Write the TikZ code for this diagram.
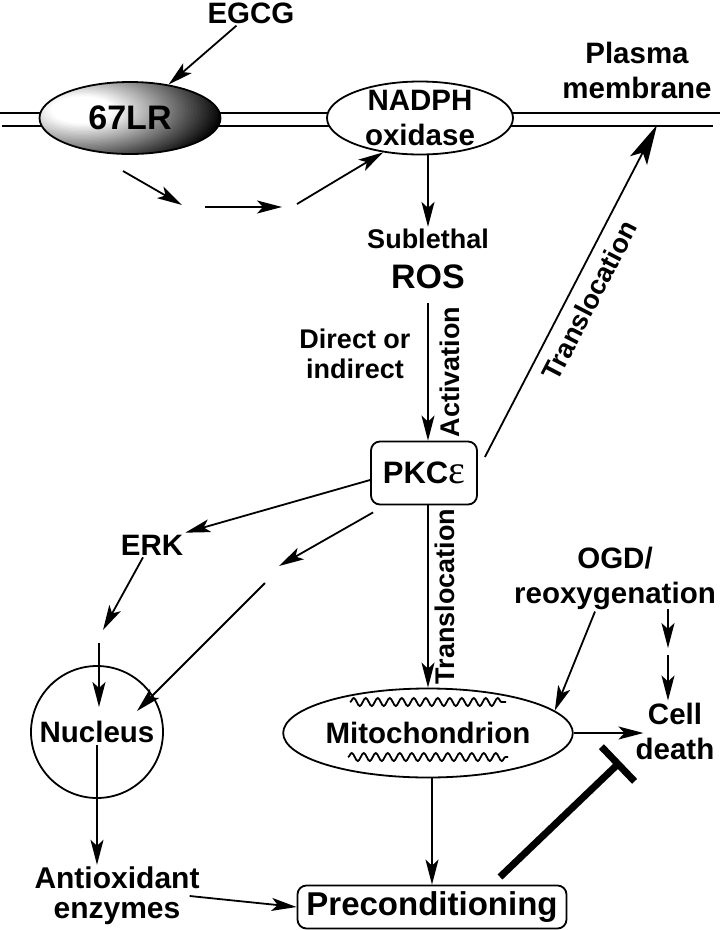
\documentclass[tikz,border=0pt]{standalone}
\usepackage{fontspec}
\setmainfont{Liberation Sans}
\newfontfamily\epsfont{Liberation Serif}
\usetikzlibrary{arrows.meta,shapes.geometric,calc,decorations.pathmorphing}
\tikzset{
  arr/.style={line width=1.8pt, -{Stealth[length=25pt,width=13pt,inset=6pt]}},
  bigarr/.style={line width=1.8pt, -{Stealth[length=40pt,width=19pt,inset=9pt]}},
  txt/.style={font=\fontsize{29.5}{35}\selectfont\bfseries, align=center, inner sep=2pt},
  lab/.style={font=\fontsize{27}{30}\selectfont\bfseries, align=center, inner sep=2pt},
  oval/.style={ellipse, draw, line width=1.8pt, inner sep=0pt},
  box/.style={rectangle, draw, rounded corners=9pt, line width=1.8pt, fill=white, inner sep=0pt},
  membrane/.style={line width=1.8pt},
  inhib/.style={line width=7pt},
  crista/.style={line width=1.8pt, decorate, decoration={snake, amplitude=4pt, segment length=12pt}},
}

\begin{document}
\begin{tikzpicture}[x=1pt, y=-1pt]
                \useasboundingbox (0,0) rectangle (720,930);
                \draw[membrane] (0,113) -- (720,113);
                \draw[membrane] (2,126) -- (713,126);
                \begin{scope}
                  \clip (130,118) ellipse [x radius=90.5, y radius=36];
                  \fill[black] (130,118) ellipse [x radius=91, y radius=37];
                  \foreach \r in {160,157,...,30} {
                    \pgfmathsetmacro\dk{max(0,min(100,0.9*(\r-32)))}
                    \fill[black!\dk] (82,110) ellipse [x radius=\r, y radius=\r/2.3];
                  }
                \end{scope}
                \node[txt] (egcg) at (251,13) {EGCG};
                \node[oval, minimum width=181pt, minimum height=72pt, font=\fontsize{34}{36}\selectfont\bfseries] (lr) at (130,118) {67LR};
                \node[oval, fill=white, minimum width=186pt, minimum height=73pt, txt, inner sep=-3pt] (nadph) at (420,118) {NADPH\\oxidase};
                \node[txt] (plasma) at (637,70) {Plasma\\membrane};
                \node[lab] (subl) at (428,239) {Sublethal};
                \node[txt, font=\fontsize{34}{36}\selectfont\bfseries] (ros) at (428,277) {ROS};
                \node[lab] (direct) at (355,354) {Direct or\\indirect};
                \node[box, minimum width=106pt, minimum height=63pt, font=\fontsize{31}{32}\selectfont\bfseries] (pkc) at (424,473) {PKC{\epsfont\mdseries\fontsize{40}{40}\selectfont ε}};
                \node[txt] (erk) at (152,545) {ERK};
                \node[circle, draw, line width=1.8pt, minimum size=132pt, txt, inner sep=0pt] (nuc) at (97,732) {Nucleus};
                \node[oval, fill=white, minimum width=226pt, minimum height=89pt, txt, inner sep=0pt] (mito) at (428,733) {Mitochondrion};
                \node[txt] (ogd) at (615,578) {OGD/\\reoxygenation};
                \node[txt] (death) at (675,731) {Cell\\death};
                \node[txt, font=\fontsize{30}{30}\selectfont\bfseries] (anti) at (117,896) {Antioxidant\\enzymes};
                \node[box, minimum width=269pt, minimum height=43pt, font=\fontsize{33}{34}\selectfont\bfseries] (pre) at (432,907) {Preconditioning};
                \draw[crista] ($(mito)+(-78,-31)$) -- ($(mito)+(78,-31)$);
                \draw[crista] ($(mito)+(-80,24)$) -- ($(mito)+(80,24)$);
                \coordinate (d1) at (123,171);
                \coordinate (d2) at (182,205);
                \coordinate (d3) at (205,207);
                \coordinate (d4) at (282,207);
                \coordinate (d5) at (297,204);
                \coordinate (g1) at (279,566);
                \coordinate (g2) at (265,583);
                \coordinate (e1) at (103,630);
                \coordinate (e2) at (99,643);
                \coordinate (h0) at (668,609);
                \coordinate (h1) at (668,648);
                \coordinate (h2) at (668,655);
                \coordinate (m1) at (657,125);
                \coordinate (i0) at (500,877);
                \coordinate (i1) at (618,764);
                \draw[arr] (egcg) -- (lr);
                \draw[arr] (d1) -- (d2);
                \draw[arr] (d3) -- (d4);
                \draw[arr] (d5) -- (nadph.223);
                \draw[arr] (nadph.south -| subl.north) -- (subl.north);
                \draw[arr] ([yshift=-12pt]ros.south) -- (ros.south |- pkc.north) node[lab, midway, rotate=90, anchor=north, inner sep=11pt] {Activation};
                \draw[bigarr] ([xshift=7pt,yshift=16pt]pkc.east) -- (m1) node[lab, midway, sloped, below, inner sep=10pt] {Translocation};
                \draw[arr] (pkc.south -| mito.north) -- (mito.north) node[lab, midway, rotate=90, anchor=north, inner sep=6pt] {Translocation};
                \draw[arr] ([yshift=-7pt]pkc.west) -- (erk.north east);
                \draw[arr] ([xshift=3pt,yshift=-7pt]pkc.south west) -- (g1);
                \draw[arr] (g2) -- ($(nuc)+(40,-21)$);
                \draw[arr] ([xshift=-9pt]erk.south) -- (e1);
                \draw[arr] (e2) -- ($(nuc)+(2,-25)$);
                \draw[arr] ([yshift=-13pt]nuc.center) -- (nuc.center |- anti.north);
                \draw[arr] ([xshift=-12pt]anti.east) -- (pre.west);
                \draw[arr] (mito.south -| pre.north) -- (pre.north);
                \draw[arr, shorten >=-10pt] (mito.east) -- (mito.east -| death.west);
                \draw[arr] ([xshift=-20pt]ogd.south) -- (mito.10);
                \draw[arr] (h0) -- (h1);
                \draw[arr] (h2) -- (h2 |- death.north);
                \draw[inhib] (i0) -- (i1);
                \draw[inhib] ($(i1)!24pt!90:(i0)$) -- ($(i1)!24pt!-90:(i0)$);
            \end{tikzpicture}
\end{document}
